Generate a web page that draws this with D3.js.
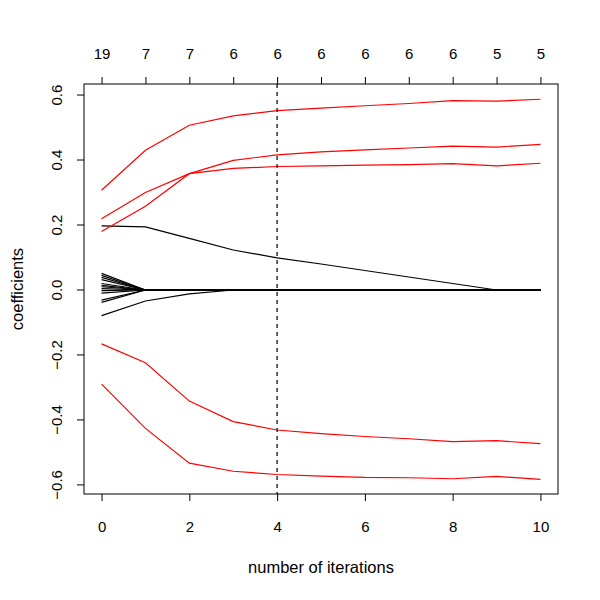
<!DOCTYPE html>
<html>
<head>
  <meta charset="utf-8">
  <title>coefficients</title>
  <script src="https://d3js.org/d3.v7.min.js"></script>
  <style>
    body { margin: 0; background: #fff; }
    svg { font-family: "Liberation Sans", Arial, Helvetica, sans-serif; }
    .axis text { font-size: 15px; fill: #000; }
    .axis line, .axis path { stroke: #000; }
  </style>
</head>
<body>
<div id="vis"></div>
<script>
  var iteracoes = [0, 1, 2, 3, 4, 5, 6, 7, 8, 9, 10];
  var naoZeros = [19, 7, 7, 6, 6, 6, 6, 6, 6, 5, 5];
  var escolhida = 4;

  // red paths (coefficients kept)
  var vermelhoA = [0.307, 0.430, 0.507, 0.536, 0.552, 0.560, 0.567, 0.574, 0.583, 0.581, 0.587];
  var vermelhoB = [0.219, 0.300, 0.358, 0.399, 0.416, 0.425, 0.431, 0.437, 0.443, 0.440, 0.448];
  var vermelhoC = [0.180, 0.258, 0.358, 0.374, 0.380, 0.382, 0.384, 0.386, 0.389, 0.382, 0.390];
  var vermelhoD = [-0.166, -0.224, -0.342, -0.405, -0.431, -0.442, -0.451, -0.458, -0.467, -0.464, -0.473];
  var vermelhoE = [-0.290, -0.426, -0.533, -0.558, -0.568, -0.573, -0.577, -0.578, -0.581, -0.574, -0.583];

  // black paths (coefficients dropped)
  var pretoLongo = [0.197, 0.194, 0.159, 0.123, 0.099, 0.080, 0.060, 0.040, 0.020, 0, 0];
  var pretoNeg = [-0.079, -0.034, -0.012, 0, 0, 0, 0, 0, 0, 0, 0];
  var pretosIniciais = [0.051, 0.045, 0.039, 0.032, 0.020, 0.014, 0.010, 0.004, -0.002, -0.010, -0.031, -0.038];

  var vermelhos = [vermelhoA, vermelhoB, vermelhoC, vermelhoD, vermelhoE];
  var pretos = [pretoLongo, pretoNeg].concat(pretosIniciais.map(function (v) {
    return iteracoes.map(function (it) { return it === 0 ? v : 0; });
  }));

  var largura = 600, altura = 600;
  var margin = { top: 84, right: 42, bottom: 106, left: 84 };

  var svg = d3.select('#vis').append('svg')
    .attr('width', largura)
    .attr('height', altura);

  var x = d3.scaleLinear()
    .domain([-0.4, 10.4])
    .range([margin.left, largura - margin.right]);

  var y = d3.scaleLinear()
    .domain([-0.628, 0.634])
    .range([altura - margin.bottom, margin.top]);

  var linha = d3.line()
    .x(function (d, i) { return x(iteracoes[i]); })
    .y(function (d) { return y(d); });

  svg.append('g').selectAll('path')
    .data(pretos)
    .enter()
    .append('path')
    .attr('d', linha)
    .attr('fill', 'none')
    .attr('stroke', '#000')
    .attr('stroke-width', 1.2);

  svg.append('g').selectAll('path')
    .data(vermelhos)
    .enter()
    .append('path')
    .attr('d', linha)
    .attr('fill', 'none')
    .attr('stroke', '#ff0000')
    .attr('stroke-width', 1.2);

  svg.append('line')
    .attr('x1', x(escolhida)).attr('x2', x(escolhida))
    .attr('y1', margin.top).attr('y2', altura - margin.bottom)
    .attr('stroke', '#000')
    .attr('stroke-width', 1.2)
    .attr('stroke-dasharray', '4,4');

  // eixos
  var eixoX = svg.append('g')
    .attr('class', 'axis')
    .attr('transform', 'translate(0,' + (altura - margin.bottom) + ')')
    .call(d3.axisBottom(x).tickValues([0, 2, 4, 6, 8, 10]).tickFormat(d3.format('d'))
      .tickSize(7).tickSizeOuter(0));
  eixoX.selectAll('text').attr('y', 33).attr('dy', '0.35em');

  var eixoTopo = svg.append('g')
    .attr('class', 'axis')
    .attr('transform', 'translate(0,' + margin.top + ')')
    .call(d3.axisTop(x).tickValues(iteracoes)
      .tickFormat(function (d, i) { return naoZeros[i]; })
      .tickSize(7).tickSizeOuter(0));
  eixoTopo.selectAll('text').attr('y', -30).attr('dy', '0.35em');

  var eixoY = svg.append('g')
    .attr('class', 'axis')
    .attr('transform', 'translate(' + margin.left + ',0)')
    .call(d3.axisLeft(y).tickValues([-0.6, -0.4, -0.2, 0, 0.2, 0.4, 0.6])
      .tickFormat(d3.format('.1f')).tickSize(7).tickSizeOuter(0));

  eixoY.selectAll('text')
    .attr('x', null).attr('dy', '0.35em')
    .attr('text-anchor', 'middle')
    .attr('transform', function (d) { return 'translate(-27,' + y(d) + ') rotate(-90)'; })
    .attr('y', 0)
    .text(function (d) { return d3.format('.1f')(d).replace('-', '\u2212'); });
  eixoY.selectAll('.tick').attr('transform', null);
  eixoY.selectAll('.tick line')
    .attr('y1', function (d) { return y(d); })
    .attr('y2', function (d) { return y(d); });

  [eixoX, eixoTopo, eixoY].forEach(function (e) { e.select('.domain').remove(); });

  // box
  svg.append('rect')
    .attr('x', margin.left)
    .attr('y', margin.top)
    .attr('width', largura - margin.left - margin.right)
    .attr('height', altura - margin.top - margin.bottom)
    .attr('fill', 'none')
    .attr('stroke', '#000')
    .attr('stroke-width', 1);

  svg.append('text')
    .attr('x', (margin.left + largura - margin.right) / 2)
    .attr('y', 567)
    .attr('dy', '0.35em')
    .attr('text-anchor', 'middle')
    .style('font-size', '16.5px')
    .text('number of iterations');

  svg.append('text')
    .attr('transform', 'translate(17,' + ((margin.top + altura - margin.bottom) / 2) + ') rotate(-90)')
    .attr('dy', '0.35em')
    .attr('text-anchor', 'middle')
    .style('font-size', '16.5px')
    .text('coefficients');
</script>
</body>
</html>
